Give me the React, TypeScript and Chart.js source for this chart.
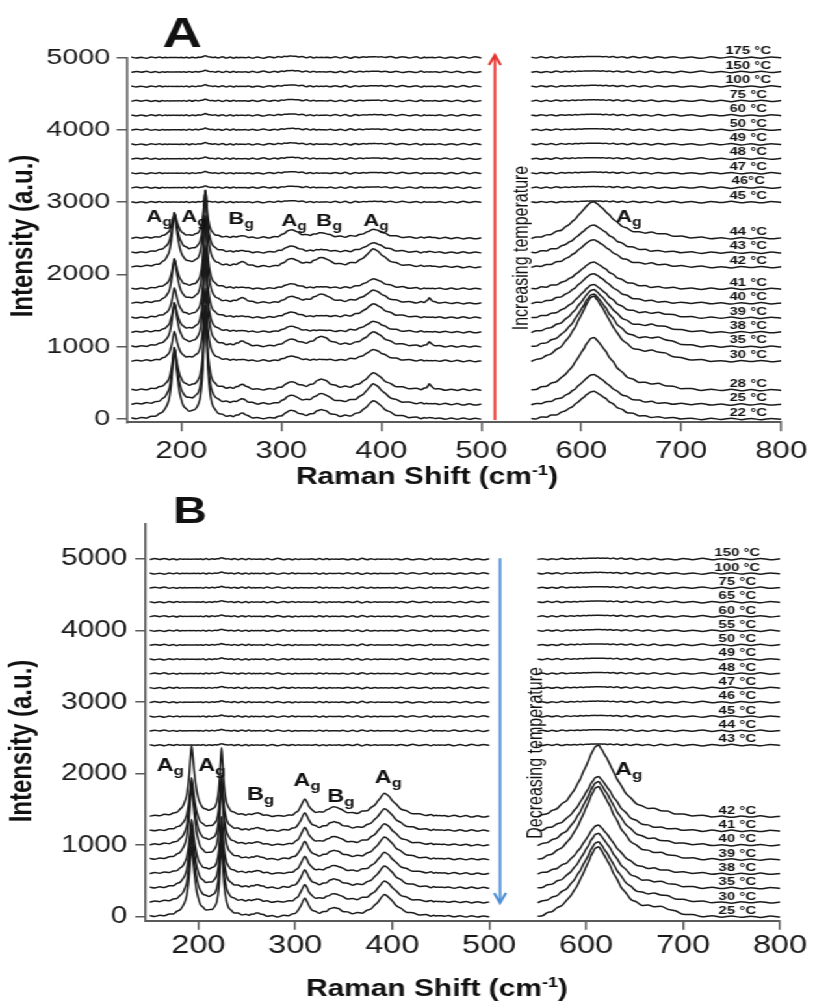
import React, { useEffect, useRef } from "react";
import { Chart, registerables } from "chart.js";

Chart.register(...registerables);

// The reference figure is horizontally stretched; we draw on a narrower canvas and stretch it.
const CW = 627;
const SX = 815 / CW;
const FF = "'Liberation Sans', Arial, Helvetica, sans-serif";
const AXIS = "#5a5a5a";
const LINE = "#1a1a1a";

// ---------- wavenumber grids (cm-1) ----------
const XL = [150,155,160,165,170,174,178,181,184,186,188,190,191,192,193,194,195,196,198,200,202,205,208,211,214,217,219,221,222,223,224,225,226,227,229,231,234,237,241,245,249,252,255,257,259,260,261,262,264,267,271,276,282,288,293,297,300,303,306,308,310,312,314,317,321,325,329,332,335,338,340,342,345,349,354,359,364,369,374,378,382,385,388,390,392,394,397,400,404,409,415,421,428,435,440,443,445,447,448,449,451,454,458,464,470,476,482,488,494,500];
const XR = [550,555,560,565,570,575,580,584,588,591,594,597,600,603,605,607,609,611,613,615,617,619,622,625,628,632,636,641,646,652,658,664,670,677,684,692,700,710,720,730,740,750,760,770,780,790,800];
const X_TICKS = [200, 300, 400, 500, 600, 700, 800];
const Y_TICKS = [0, 1000, 2000, 3000, 4000, 5000];

// baseline noise (a.u.)
const WL = [
  6,-8,4,-10,7,-5,8,-4,3,-2,
  2,-1,1,0,0,1,-1,1,-2,3,
  -4,6,-7,5,-6,4,-2,1,0,0,
  0,0,1,-1,2,-3,5,-7,8,-9,
  7,-9,5,-3,2,0,0,1,-3,6,
  -9,7,-11,8,-6,9,-5,4,-2,1,
  0,-1,2,-4,7,-9,6,-8,4,-2,
  1,-1,3,-6,9,-7,10,-12,8,-6,
  4,-3,2,-1,0,1,-2,4,-6,9,
  -8,10,-7,9,-11,6,-3,1,0,-1,
  2,-4,7,-10,8,-9,11,-7,9,-6,
];
const WR = [
  5,-7,9,-6,8,-10,6,-4,3,-5,
  4,-3,2,-2,1,-1,1,0,0,1,
  -1,2,-3,4,-5,6,-8,7,-9,10,
  -7,8,-11,9,-6,10,-8,7,-12,9,
  -7,11,-9,6,-10,8,-5,
];

// ---------- normalised band shapes ----------
type Shape = Record<number, number>;
const P193: Shape = {150:.01,155:.012,160:.016,165:.022,170:.032,174:.045,178:.07,181:.1,184:.15,186:.21,188:.3,190:.5,191:.66,192:.85,193:1,194:.9,195:.74,196:.6,198:.38,200:.25,202:.17,205:.11,208:.075,211:.055,214:.042,217:.034,219:.03,221:.027,222:.026,223:.025,224:.024,225:.023,226:.022,227:.021,229:.019,231:.017,234:.015,237:.013,241:.011,245:.009,249:.007,252:.006,255:.005};
const P224: Shape = {190:.006,191:.006,192:.007,193:.007,194:.007,195:.008,196:.008,198:.009,200:.011,202:.013,205:.018,208:.026,211:.04,214:.065,217:.11,219:.18,221:.36,222:.55,223:.82,224:1,225:.8,226:.55,227:.38,229:.2,231:.12,234:.07,237:.046,241:.03,245:.021,249:.016,252:.013,255:.011,257:.01,259:.009,260:.009,261:.008,262:.008,264:.007,267:.006,271:.005,276:.004,282:.003,288:.002};
const P261: Shape = {241:.03,245:.06,249:.12,252:.22,255:.4,257:.6,259:.85,260:.96,261:1,262:.95,264:.72,267:.42,271:.2,276:.1,282:.05,288:.025,293:.01};
const P310A: Shape = {282:.04,288:.08,293:.15,297:.26,300:.4,303:.6,306:.84,308:.95,310:1,312:.95,314:.84,317:.62,321:.4,325:.25,329:.16,332:.12,335:.09,338:.07,340:.06,342:.05,345:.04,349:.03,354:.02,359:.014,364:.01};
const P310B: Shape = {288:.04,293:.07,297:.12,300:.2,303:.35,306:.62,308:.85,310:1,312:.82,314:.58,317:.35,321:.2,325:.12,329:.08,332:.06,335:.05,338:.04,340:.035,342:.03,345:.025,349:.02,354:.015,359:.01};
const P340: Shape = {306:.03,308:.035,310:.04,312:.05,314:.06,317:.08,321:.13,325:.22,329:.38,332:.55,335:.76,338:.93,340:1,342:.95,345:.78,349:.52,354:.3,359:.17,364:.1,369:.07,374:.05,378:.04,382:.03};
const P392: Shape = {345:.03,349:.04,354:.06,359:.08,364:.12,369:.17,374:.25,378:.35,382:.5,385:.65,388:.82,390:.93,392:1,394:.96,397:.85,400:.7,404:.52,409:.35,415:.22,421:.15,428:.1,435:.07,440:.055,443:.05,445:.045,447:.043,448:.042,449:.041,451:.038,454:.034,458:.03,464:.025,470:.02,476:.016,482:.012,488:.009,494:.006,500:.004};
const P448: Shape = {440:.04,443:.12,445:.3,447:.7,448:1,449:.8,451:.4,454:.15,458:.06,464:.02};
const P613: Shape = {550:0,555:.02,560:.05,565:.08,570:.12,575:.17,580:.23,584:.3,588:.38,591:.45,594:.53,597:.62,600:.71,603:.8,605:.87,607:.92,609:.97,611:.99,613:1,615:.96,617:.92,619:.87,622:.8,625:.72,628:.63,632:.53,636:.43,641:.33,646:.25,652:.18,658:.13,664:.1,670:.08,677:.06,684:.045,692:.03,700:.02,710:.012,720:.006,730:.003};
const P675: Shape = {641:.05,646:.12,652:.25,658:.45,664:.7,670:.9,677:1,684:.85,692:.55,700:.3,710:.14,720:.06,730:.02};

// ---------- Panel A: heating ----------
const A_TLABELS = ["22 °C","25 °C","28 °C","30 °C","35 °C","38 °C","39 °C","40 °C","41 °C","42 °C","43 °C","44 °C","45 °C","46°C","47 °C","48 °C","49 °C","50 °C","60 °C","75 °C","100 °C","150 °C","175 °C"];
const A_OFFSETS = [0,200,400,800,1000,1200,1400,1600,1800,2100,2300,2500,3000,3200,3400,3600,3800,4000,4200,4400,4600,4800,5000];
const A_H193 = [978,778,578,407,600,400,408,609,409,745,545,345,0,0,0,0,0,0,0,0,0,0,0];
const A_H224 = [1550,1350,1150,1000,1250,1050,1000,1200,1000,1050,850,650,25,25,25,25,25,25,25,25,25,25,25];
const A_H261 = [70,70,70,15,70,15,15,70,15,70,25,30,0,0,0,0,0,0,0,0,0,0,0];
const A_H310 = [115,124,110,69,101,83,78,92,70,115,92,115,20,20,20,20,20,20,20,20,20,20,20];
const A_H340 = [124,147,147,20,138,25,25,124,25,129,40,70,0,0,0,0,0,0,0,0,0,0,0];
const A_H392 = [253,286,240,161,207,152,194,184,138,253,138,124,10,10,10,10,10,10,10,10,10,10,10];
const A_H448 = [10,0,78,0,60,0,0,69,0,10,15,15,0,0,0,0,0,0,0,0,0,0,0];
const A_H613 = [383,415,728,900,730,590,460,410,370,380,383,506,15,15,15,15,15,15,15,15,15,15,15];
const A_H675 = [0,0,40,80,80,60,40,0,0,20,0,40,0,0,0,0,0,0,0,0,0,0,0];

// ---------- Panel B: cooling ----------
const B_TLABELS = ["25 °C","30 °C","35 °C","38 °C","39 °C","40 °C","41 °C","42 °C","43 °C","44 °C","45 °C","46 °C","47 °C","48 °C","49 °C","50 °C","55 °C","60 °C","65 °C","75 °C","100 °C","150 °C"];
const B_OFFSETS = [0,200,400,600,800,1000,1200,1400,2400,2600,2800,3000,3200,3400,3600,3800,4000,4200,4400,4600,4800,5000];
const B_H193 = [979,918,839,755,1021,890,737,988,0,0,0,0,0,0,0,0,0,0,0,0,0,0];
const B_H224 = [1000,940,860,780,1040,910,760,940,20,20,20,20,20,20,20,20,20,20,20,20,20,20];
const B_H261 = [45,40,40,40,40,40,40,45,0,0,0,0,0,0,0,0,0,0,0,0,0,0];
const B_H310 = [255,245,250,240,250,245,250,242,0,0,0,0,0,0,0,0,0,0,0,0,0,0];
const B_H340 = [120,115,120,110,120,115,120,130,0,0,0,0,0,0,0,0,0,0,0,0,0,0];
const B_H392 = [310,300,310,300,315,300,310,326,0,0,0,0,0,0,0,0,0,0,0,0,0,0];
const B_H613 = [979,849,766,683,1020,890,760,1000,15,15,15,15,15,15,15,15,15,15,15,15,15,15];
const B_H675 = [80,60,40,20,30,20,0,30,0,0,0,0,0,0,0,0,0,0,0,0,0,0];

type PeakLabel = { t: string; s: string; x: number; y: number };
const A_PEAK_LABELS: PeakLabel[] = [
  { t: "A", s: "g", x: 165, y: 2725 },
  { t: "A", s: "g", x: 200, y: 2725 },
  { t: "B", s: "g", x: 247, y: 2697 },
  { t: "A", s: "g", x: 300, y: 2675 },
  { t: "B", s: "g", x: 335, y: 2675 },
  { t: "A", s: "g", x: 382, y: 2675 },
  { t: "A", s: "g", x: 635, y: 2725 },
];
const B_PEAK_LABELS: PeakLabel[] = [
  { t: "A", s: "g", x: 157, y: 2038 },
  { t: "A", s: "g", x: 200, y: 2038 },
  { t: "B", s: "g", x: 250, y: 1632 },
  { t: "A", s: "g", x: 298, y: 1828 },
  { t: "B", s: "g", x: 333, y: 1604 },
  { t: "A", s: "g", x: 382, y: 1870 },
  { t: "A", s: "g", x: 630, y: 1982 },
];

function buildPoints(off: number, hL: number[], shL: Shape[], hR: number[], shR: Shape[], sign: number) {
  const pts: { x: number; y: number | null }[] = [];
  XL.forEach((x, i) => {
    let y = off + sign * (WL[i] ?? 0);
    shL.forEach((s, j) => { y += hL[j] * (s[x] ?? 0); });
    pts.push({ x, y });
  });
  pts.push({ x: 525, y: null });
  XR.forEach((x, i) => {
    let y = off + sign * (WR[i] ?? 0);
    shR.forEach((s, j) => { y += hR[j] * (s[x] ?? 0); });
    pts.push({ x, y });
  });
  return pts;
}

function datasetsA() {
  return A_TLABELS.map((t, k) => ({
    label: t,
    data: buildPoints(
      A_OFFSETS[k],
      [A_H193[k], A_H224[k], A_H261[k], A_H310[k], A_H340[k], A_H392[k], A_H448[k]],
      [P193, P224, P261, P310A, P340, P392, P448],
      [A_H613[k], A_H675[k]],
      [P613, P675],
      k % 2 ? -1 : 1
    ),
    borderColor: LINE,
    borderWidth: 1.5,
    pointRadius: 0,
    cubicInterpolationMode: "monotone",
    spanGaps: false,
    clip: false,
  }));
}
function datasetsB() {
  return B_TLABELS.map((t, k) => ({
    label: t,
    data: buildPoints(
      B_OFFSETS[k],
      [B_H193[k], B_H224[k], B_H261[k], B_H310[k], B_H340[k], B_H392[k]],
      [P193, P224, P261, P310B, P340, P392],
      [B_H613[k], B_H675[k]],
      [P613, P675],
      k % 2 ? -1 : 1
    ),
    borderColor: LINE,
    borderWidth: 1.5,
    pointRadius: 0,
    cubicInterpolationMode: "monotone",
    spanGaps: false,
    clip: false,
  }));
}

const PANEL_A = {
  key: "A", H: 490, pageTop: 0,
  top: 57.5, bottom: 422.3, left: 127 / SX, right: 789.2 / SX,
  xMin: 145.6, yMin: -46, yMax: 5000,
  xFont: 24, xPad: 6, yFont: 22, yPad: 5,
  tlabels: A_TLABELS, offsets: A_OFFSETS, tempX: 767, tempDy: 45,
  peaks: A_PEAK_LABELS, peakFont: 17, subFont: 12,
  arrow: { x: 513.6, from: -14, to: 5035, color: "#e8332f" },
  side: { text: "Increasing temperature", x: 541, y: 2365 },
  letter: { text: "A", x: 181, y: 5145, size: 42 },
  yTitle: { x: 24, y: 236 }, xTitle: { x: 427, y: 478 },
  datasets: datasetsA,
};
const PANEL_B = {
  key: "B", H: 511, pageTop: 490,
  top: 33.4, bottom: 430.7, left: 145.7 / SX, right: 780 / SX,
  xMin: 145.7, yMin: -56, yMax: 5500,
  xFont: 25, xPad: 1, yFont: 23, yPad: 6,
  tlabels: B_TLABELS, offsets: B_OFFSETS, tempX: 756, tempDy: 40,
  peaks: B_PEAK_LABELS, peakFont: 18, subFont: 13,
  arrow: { x: 511.2, from: 5013, to: 192, color: "#4d90d6" },
  side: { text: "Decreasing temperature", x: 548, y: 2290 },
  letter: { text: "B", x: 174, y: 5506, size: 36 },
  yTitle: { x: 22, y: 741 }, xTitle: { x: 437, y: 990 },
  datasets: datasetsB,
};

function overlay(p: any) {
  return {
    id: "overlay" + p.key,
    afterDatasetsDraw(chart: any) {
      const ctx = chart.ctx;
      const X = (v: number) => chart.scales.x.getPixelForValue(v);
      const Y = (v: number) => chart.scales.y.getPixelForValue(v);
      ctx.save();

      // arrow
      const ax = X(p.arrow.x), a0 = Y(p.arrow.from), a1 = Y(p.arrow.to);
      const dir = Math.sign(a1 - a0);
      ctx.strokeStyle = p.arrow.color;
      ctx.fillStyle = p.arrow.color;
      ctx.lineWidth = 2;
      ctx.beginPath();
      ctx.moveTo(ax, a0);
      ctx.lineTo(ax, a1 - dir * 2);
      ctx.stroke();
      ctx.beginPath();
      ctx.moveTo(ax - 4.5, a1 - dir * 10);
      ctx.lineTo(ax, a1);
      ctx.lineTo(ax + 4.5, a1 - dir * 10);
      ctx.stroke();

      // rotated side text
      ctx.fillStyle = "#111";
      ctx.save();
      ctx.translate(X(p.side.x), Y(p.side.y));
      ctx.rotate(-Math.PI / 2);
      ctx.font = `16px ${FF}`;
      ctx.textAlign = "center";
      ctx.textBaseline = "middle";
      ctx.fillText(p.side.text, 0, 0);
      ctx.restore();

      // temperature labels
      ctx.font = `bold 11.5px ${FF}`;
      ctx.textAlign = "center";
      ctx.textBaseline = "alphabetic";
      p.tlabels.forEach((t: string, k: number) => {
        ctx.fillText(t, X(p.tempX), Y(p.offsets[k] + p.tempDy));
      });

      // peak labels
      p.peaks.forEach((l: PeakLabel) => {
        const px = X(l.x), py = Y(l.y);
        ctx.textAlign = "left";
        ctx.font = `bold ${p.peakFont}px ${FF}`;
        ctx.fillText(l.t, px, py);
        const w = ctx.measureText(l.t).width;
        ctx.font = `bold ${p.subFont}px ${FF}`;
        ctx.fillText(l.s, px + w, py + 4);
      });

      // panel letter
      ctx.font = `bold ${p.letter.size}px ${FF}`;
      ctx.textAlign = "left";
      ctx.fillText(p.letter.text, X(p.letter.x), Y(p.letter.y));

      // y title
      ctx.save();
      ctx.translate(p.yTitle.x / SX, p.yTitle.y - p.pageTop);
      ctx.rotate(-Math.PI / 2);
      ctx.font = `bold 24px ${FF}`;
      ctx.textAlign = "center";
      ctx.textBaseline = "middle";
      ctx.fillText("Intensity (a.u.)", 0, 0);
      ctx.restore();

      // x title with superscript
      const tx = p.xTitle.x / SX, ty = p.xTitle.y - p.pageTop;
      const big = `bold 23px ${FF}`, small = `bold 14px ${FF}`;
      ctx.textBaseline = "middle";
      ctx.textAlign = "left";
      ctx.font = big;
      const s1 = "Raman Shift (cm", s3 = ")";
      const w1 = ctx.measureText(s1).width, w3 = ctx.measureText(s3).width;
      ctx.font = small;
      const w2 = ctx.measureText("-1").width;
      const x0 = tx - (w1 + w2 + w3) / 2;
      ctx.font = big;
      ctx.fillText(s1, x0, ty);
      ctx.font = small;
      ctx.fillText("-1", x0 + w1, ty - 7);
      ctx.font = big;
      ctx.fillText(s3, x0 + w1 + w2, ty);

      ctx.restore();
    },
  };
}

function makeConfig(p: any) {
  return {
    type: "line",
    data: { datasets: p.datasets() },
    options: {
      responsive: false,
      animation: false,
      devicePixelRatio: 1,
      events: [],
      layout: { padding: { top: p.top, right: CW - p.right, left: 0, bottom: 0 } },
      plugins: { legend: { display: false }, tooltip: { enabled: false }, title: { display: false } },
      scales: {
        x: {
          type: "linear",
          min: p.xMin,
          max: 800,
          afterBuildTicks: (s: any) => { s.ticks = X_TICKS.map((v) => ({ value: v })); },
          afterFit: (s: any) => { s.height = p.H - p.bottom; },
          grid: { drawOnChartArea: false, drawTicks: true, tickLength: 9, color: AXIS, lineWidth: 1.5 },
          border: { display: true, color: AXIS, width: 2 },
          ticks: {
            font: { family: FF, size: p.xFont },
            color: "#1a1a1a",
            padding: p.xPad,
            maxRotation: 0,
            autoSkip: false,
            callback: (v: any) => String(v),
          },
        },
        y: {
          type: "linear",
          min: p.yMin,
          max: p.yMax,
          afterBuildTicks: (s: any) => { s.ticks = Y_TICKS.map((v) => ({ value: v })); },
          afterFit: (s: any) => { s.width = p.left; },
          grid: { drawOnChartArea: false, drawTicks: true, tickLength: 8, color: AXIS, lineWidth: 1.5 },
          border: { display: true, color: AXIS, width: 1.6 },
          ticks: {
            font: { family: FF, size: p.yFont },
            color: "#1a1a1a",
            padding: p.yPad,
            autoSkip: false,
            callback: (v: any) => String(v),
          },
        },
      },
    },
    plugins: [overlay(p)],
  };
}

function Panel({ p }: { p: any }) {
  const ref = useRef<HTMLCanvasElement | null>(null);
  useEffect(() => {
    const chart = new Chart(ref.current as HTMLCanvasElement, makeConfig(p) as any);
    return () => chart.destroy();
  }, []);
  return (
    <canvas
      ref={ref}
      width={CW}
      height={p.H}
      style={{ display: "block", width: CW, height: p.H }}
    />
  );
}

export default function App() {
  return (
    <div
      style={{
        position: "absolute",
        left: 0,
        top: 0,
        width: CW,
        height: 1001,
        transform: `scaleX(${SX})`,
        transformOrigin: "0 0",
        background: "#fff",
      }}
    >
      <Panel p={PANEL_A} />
      <Panel p={PANEL_B} />
    </div>
  );
}
